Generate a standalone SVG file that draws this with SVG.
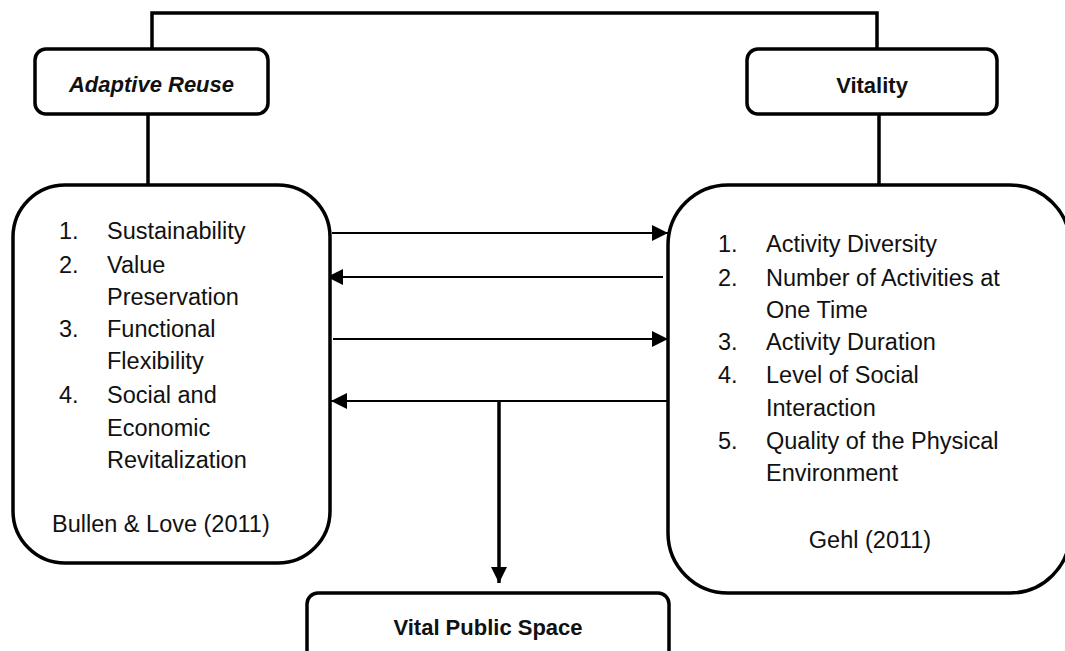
<svg xmlns="http://www.w3.org/2000/svg" width="1065" height="651" viewBox="0 0 1065 651">
<style>
.box{fill:#fff;stroke:#000;stroke-width:3.5}
.ln{fill:none;stroke:#000;stroke-width:3.5}
.ar{fill:none;stroke:#000;stroke-width:2.2}
.t{font-family:"Liberation Sans",Arial,sans-serif;font-size:23.5px;fill:#111}
.b{font-family:"Liberation Sans",Arial,sans-serif;font-size:22px;font-weight:bold;fill:#111}
</style>
<defs>
<marker id="ah" markerUnits="userSpaceOnUse" markerWidth="16" markerHeight="16" viewBox="0 0 16 16" refX="16" refY="8" orient="auto">
<path d="M0,0 L16,8 L0,16 Z" fill="#000"/>
</marker>
</defs>
<g id="connectors">
<polyline class="ln" points="152,49 152,13 877,13 877,49"/>
<line class="ln" x1="148" y1="114" x2="148" y2="185"/>
<line class="ln" x1="879" y1="114" x2="879" y2="185"/>
<line class="ar" x1="332" y1="233" x2="668" y2="233" marker-end="url(#ah)"/>
<line class="ar" x1="663" y1="277" x2="327" y2="277" marker-end="url(#ah)"/>
<line class="ar" x1="333" y1="339" x2="668" y2="339" marker-end="url(#ah)"/>
<line class="ar" x1="667" y1="401" x2="331" y2="401" marker-end="url(#ah)"/>
<line class="ln" x1="499" y1="401" x2="499" y2="583" marker-end="url(#ah)" stroke-width="3"/>
</g>
<g id="adaptive-reuse">
<rect class="box" x="35" y="49" width="233" height="65" rx="11"/>
<text class="b" x="151.5" y="92" text-anchor="middle" font-style="italic">Adaptive Reuse</text>
</g>
<g id="vitality">
<rect class="box" x="747" y="49" width="250" height="65" rx="11"/>
<text class="b" x="872" y="93" text-anchor="middle">Vitality</text>
</g>
<g id="adaptive-reuse-criteria">
<rect class="box" x="13" y="185" width="317" height="378" rx="52"/>
<text class="t" x="59" y="239">1.</text><text class="t" x="107" y="239">Sustainability</text>
<text class="t" x="59" y="273">2.</text><text class="t" x="107" y="273">Value</text>
<text class="t" x="107" y="305">Preservation</text>
<text class="t" x="59" y="337">3.</text><text class="t" x="107" y="337">Functional</text>
<text class="t" x="107" y="369">Flexibility</text>
<text class="t" x="59" y="403">4.</text><text class="t" x="107" y="403">Social and</text>
<text class="t" x="107" y="436">Economic</text>
<text class="t" x="107" y="468">Revitalization</text>
<text class="t" x="52" y="532">Bullen &amp; Love (2011)</text>
</g>
<g id="vitality-criteria">
<rect class="box" x="668" y="185" width="402" height="408" rx="60"/>
<text class="t" x="718" y="252">1.</text><text class="t" x="766" y="252">Activity Diversity</text>
<text class="t" x="718" y="286">2.</text><text class="t" x="766" y="286">Number  of Activities at</text>
<text class="t" x="766" y="318">One Time</text>
<text class="t" x="718" y="350">3.</text><text class="t" x="766" y="350">Activity Duration</text>
<text class="t" x="718" y="383">4.</text><text class="t" x="766" y="383">Level of Social</text>
<text class="t" x="766" y="416">Interaction</text>
<text class="t" x="718" y="449">5.</text><text class="t" x="766" y="449">Quality of the Physical</text>
<text class="t" x="766" y="481">Environment</text>
<text class="t" x="870" y="548" text-anchor="middle">Gehl (2011)</text>
</g>
<g id="vital-public-space">
<rect class="box" x="307" y="593" width="362" height="80" rx="11"/>
<text class="b" x="488" y="635" text-anchor="middle">Vital Public Space</text>
</g>
</svg>
